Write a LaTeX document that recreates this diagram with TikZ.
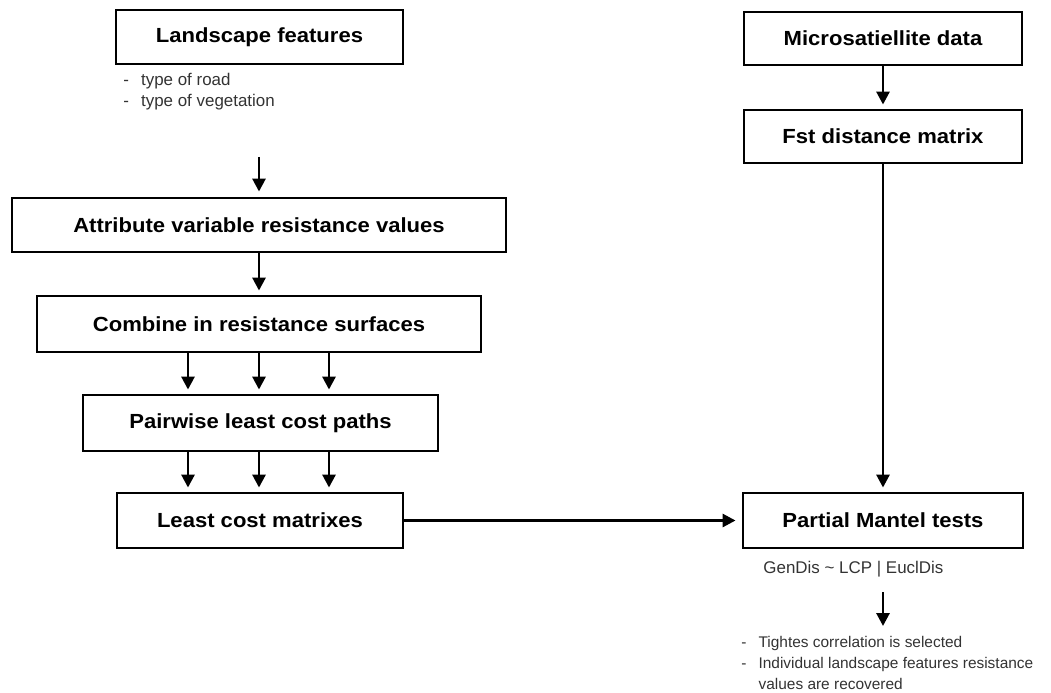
\documentclass[tikz,border=0pt]{standalone}
\usepackage{fontspec}
\setmainfont{Liberation Sans}
\newfontfamily\headfont{Liberation Sans}[FakeStretch=1.08]
\usetikzlibrary{arrows.meta, positioning}

\begin{document}
\begin{tikzpicture}[x=1bp,y=-1bp,line width=2.9bp,>={Triangle[length=13bp,width=13bp]}]
    \tikzstyle{box}=[draw,rectangle,minimum height=54bp,inner sep=0pt,font=\headfont\bfseries\fontsize{20.5}{24}\selectfont]
    \tikzstyle{note}=[inner sep=0pt,text=black!80,font=\fontsize{15.5}{21.5}\selectfont]
    \tikzstyle{flow}=[->,shorten >=4bp]

    \useasboundingbox (0,0) rectangle (1051,693);

    % Draw the landscape branch
    \node[box,minimum width=287bp] (land) at (259.5,37) {Landscape features};
    \node[note,anchor=base west,font=\fontsize{17}{21}\selectfont] (feat) at (122,86)
        {\begin{tabular}[t]{@{}l@{\hspace{12bp}}l@{}}
            - & type of road\\
            - & type of vegetation
         \end{tabular}};
    \node[box,minimum width=494bp] (attr) at (259,225) {Attribute variable resistance values};
    \node[box,minimum width=444bp,minimum height=56bp] (comb) at (259,324) {Combine in resistance surfaces};
    \node[box,minimum width=355bp,minimum height=56bp] (pair) at (260.5,423) {Pairwise least cost paths};
    \node[box,minimum width=286bp,minimum height=55bp] (lcm) at (260,520.5) {Least cost matrixes};

    % Draw the genetic branch
    \node[box,minimum width=278bp,minimum height=53bp] (micro) at (883,38.5) {Microsatiellite data};
    \node[box,minimum width=278bp,minimum height=53bp] (fst) at (883,136.5) {Fst distance matrix};
    \node[box,minimum width=280bp,minimum height=55bp] (mantel) at (883,520.5) {Partial Mantel tests};
    \node[note,anchor=base west,font=\fontsize{17}{21}\selectfont] (formula) at (762,573) {GenDis \textasciitilde{} LCP | EuclDis};
    \node[note,anchor=base west] (result) at (740,647)
        {\begin{tabular}[t]{@{}l@{\hspace{12bp}}l@{}}
            - & Tightes correlation is selected\\
            - & Individual landscape features resistance\\
              & values are recovered
         \end{tabular}};

    % Connect them
    \coordinate (start) at (259,157);
    \draw[flow,shorten >=5bp] (start) -- (attr);
    \draw[flow] (attr) -- (comb);
    \foreach \i in {188,259,329}
        \draw[flow] (comb.south -| \i,0) -- (pair.north -| \i,0);
    \foreach \i in {188,259,329}
        \draw[flow] (pair.south -| \i,0) -- (lcm.north -| \i,0);
    \draw[flow,shorten >=6bp] (lcm) -- (mantel);
    \draw[flow] (micro) -- (fst);
    \draw[flow] (fst) -- (mantel);
    \coordinate (gap) at (883,592);
    \coordinate (sel) at (883,632);
    \draw[flow,shorten >=6bp] (gap) -- (sel);
\end{tikzpicture}
\end{document}
